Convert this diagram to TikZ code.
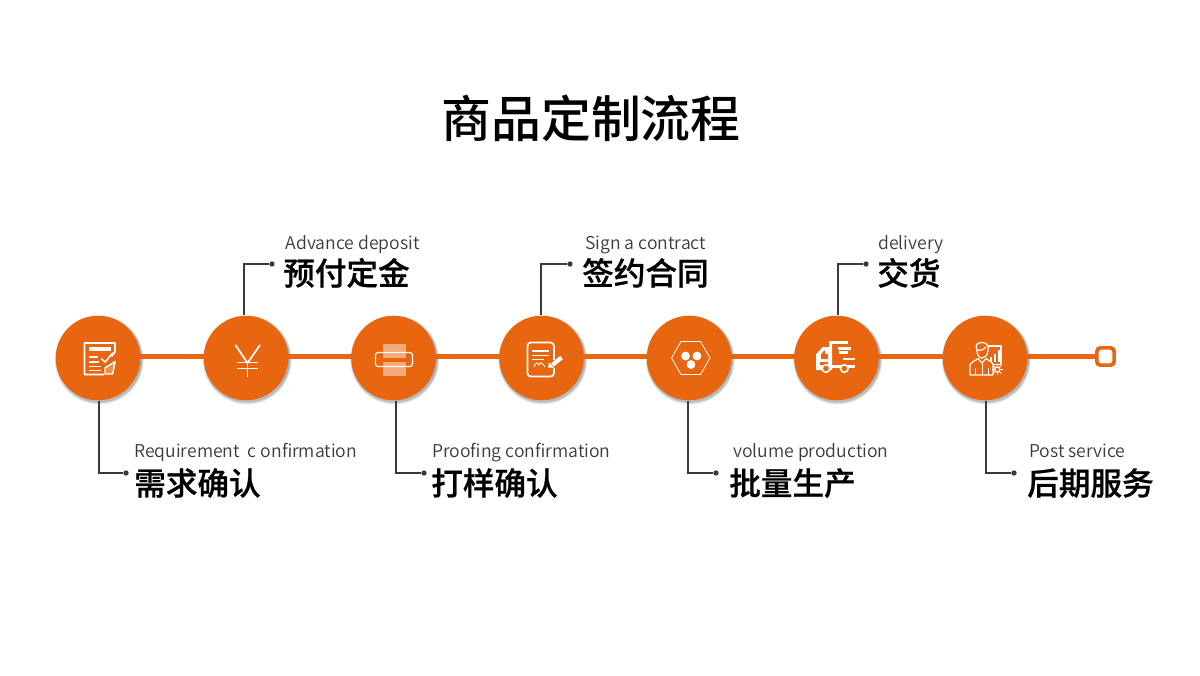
\documentclass[tikz,border=0pt]{standalone}
\usepackage{fontspec}
\setmainfont{Noto Sans}
\newfontfamily\cjkm{Noto Sans CJK SC Medium}
\newfontfamily\cjkb[FakeBold=0.7]{Noto Sans CJK SC Medium}
\newfontfamily\cjkl{Noto Sans CJK SC DemiLight}
\usetikzlibrary{calc}
\definecolor{org}{HTML}{E8660F}
\definecolor{ink}{HTML}{3A3A3A}
\definecolor{shade}{HTML}{6A3A18}
\tikzset{
  x=0.75pt,y=-0.75pt,
  spine/.style={draw=org,line width=3.6pt},
  stepdisc/.style={circle,fill=org,minimum size=63.4pt,inner sep=0pt},
  lead/.style={draw=ink,line width=1.05pt},
  leaddot/.style={circle,fill=ink,minimum size=4pt,inner sep=0pt},
  entext/.style={anchor=base west,inner sep=0pt,text=ink,font=\cjkl\fontsize{13.2}{14}\selectfont},
  cntext/.style={anchor=base west,inner sep=0pt,text=black,font=\cjkb\fontsize{23.7}{24}\selectfont},
  ico/.style={draw=white,line width=0.9pt,line join=round},
  endcap/.style={draw=org,fill=white,line width=2.7pt,rounded corners=3pt,minimum size=13pt,inner sep=0pt}
}
\begin{document}
\begin{tikzpicture}
\useasboundingbox (0,0) rectangle (1200,675);
\fill[white] (0,0) rectangle (1200,675);
\node[inner sep=0pt,font=\cjkm\fontsize{37.4}{40}\selectfont] (title) at (591,118.5) {商品定制流程};
% shadows
\foreach \x in {98,246,393.5,541.5,689,836.5,985}{
  \foreach \r in {44.4,43.8,43.2,42.7,42.2}{
    \fill[shade,opacity=0.07] (\x+1.2,358+2) circle[radius=\r*0.75pt];
  }
}
% anchors
\node[endcap] (e) at (1105.5,356.5) {};
\coordinate (sp) at (0,356.5);
\foreach \n/\x in {1/98,2/246,3/393.5,4/541.5,5/689,6/836.5,7/985}{
  \coordinate (a\n) at (\x,358);
}
\draw[spine] (a1|-sp) -- (a2|-sp);
\draw[spine] (a2|-sp) -- (a3|-sp);
\draw[spine] (a3|-sp) -- (a4|-sp);
\draw[spine] (a4|-sp) -- (a5|-sp);
\draw[spine] (a5|-sp) -- (a6|-sp);
\draw[spine] (a6|-sp) -- (a7|-sp);
\draw[spine] (a7|-sp) -- (e.west);
\node[endcap] at (e) {};
% discs
\node[stepdisc] (c1) at (98,358) {};
\node[stepdisc] (c2) at (246,358) {};
\node[stepdisc] (c3) at (393.5,358) {};
\node[stepdisc] (c4) at (541.5,358) {};
\node[stepdisc] (c5) at (689,358) {};
\node[stepdisc] (c6) at (836.5,358) {};
\node[stepdisc] (c7) at (985,358) {};
% leaders
\node[leaddot] (d1) at (126,473) {};
\node[leaddot] (d2) at (272,264) {};
\node[leaddot] (d3) at (424,473) {};
\node[leaddot] (d4) at (570,264) {};
\node[leaddot] (d5) at (716,473) {};
\node[leaddot] (d6) at (866,264) {};
\node[leaddot] (d7) at (1014,473) {};
\draw[lead] ($(c1.south)+(1,0)$) |- (d1);
\draw[lead] ($(c2.north)+(-2,0)$) |- (d2);
\draw[lead] ($(c3.south)+(2.5,0)$) |- (d3);
\draw[lead] ($(c4.north)+(-0.5,0)$) |- (d4);
\draw[lead] ($(c5.south)+(-1,0)$) |- (d5);
\draw[lead] ($(c6.north)+(1.5,0)$) |- (d6);
\draw[lead] ($(c7.south)+(1,0)$) |- (d7);
% labels
\node[entext] (t1) at (134,457.5) {Requirement\ \ c onfirmation};
\node[cntext] (l1) at (134,495) {需求确认};
\node[entext] (t2) at (285.5,249) {Advance deposit};
\node[cntext] (l2) at (283,285) {预付定金};
\node[entext] (t3) at (432,457.5) {Proofing confirmation};
\node[cntext] (l3) at (431,495) {打样确认};
\node[entext] (t4) at (585,249) {Sign a contract};
\node[cntext] (l4) at (582,285) {签约合同};
\node[entext] (t5) at (733,457.5) {volume production};
\node[cntext] (l5) at (729,495) {批量生产};
\node[entext] (t6) at (878,249) {delivery};
\node[cntext] (l6) at (877,285) {交货};
\node[entext] (t7) at (1029,457.5) {Post service};
\node[cntext] (l7) at (1027,495) {后期服务};
% icon 1: form
\draw[ico,line width=1.2pt] (104,374.5) -- (84.5,374.5) -- (84.5,343) -- (115,343) -- (115,352) -- (111.5,356.5);
\fill[white] (89.3,347) rectangle (111,351);
\draw[ico,line width=1.1pt] (89.3,357) -- (97.7,357) (89.3,362) -- (99,362) (89.3,366.5) -- (101,366.5) (89.3,370.5) -- (101,370.5);
\draw[ico,line width=1.1pt] (101,358.7) -- (105.3,362) -- (112.7,352.7);
\draw[ico,line width=1.1pt,fill=white,fill opacity=.25] (105,368) -- (115,361.7) -- (112.7,374) -- (105,374) -- cycle;
% icon 2: yen
\draw[white,line width=1.3pt] (235.5,345) -- (247.5,363) -- (260,345);
\draw[white,line width=1.4pt] (247.5,363) -- (247.5,377);
\draw[white,line width=1.3pt] (237,362.5) -- (258,362.5) (237,368.5) -- (258,368.5);
% icon 3: printer
\fill[white,opacity=.45] (383,344) rectangle (406,358);
\fill[white,opacity=.45] (383,362) rectangle (406,376);
\draw[ico,rounded corners=2pt] (375.5,352.5) rectangle (412.5,366.5);
% icon 4: contract
\draw[ico,line width=1.3pt,rounded corners=2.5pt] (554,360) -- (554,342.5) -- (527.5,342.5) -- (527.5,376.5) -- (554,376.5) -- (554,368);
\draw[ico,line width=1.2pt] (532,351) -- (549,351) (532,355.5) -- (549,355.5) (532,359.5) -- (544,359.5);
\draw[ico,line width=.7pt] (534,367) .. controls (536,362) and (537,362) .. (539,365) .. controls (540,362) and (542,362) .. (545,367);
\draw[white,line width=3.2pt] (561.5,357.5) -- (552.5,365);
\fill[white] (548,367.5) -- (554,367.5) -- (549,362.5) -- cycle;
% icon 5: hexagon
\draw[ico,line width=.6pt] (671.5,358) -- (681,341.5) -- (700.5,341.5) -- (710,358) -- (700.5,374.5) -- (681,374.5) -- cycle;
\fill[white] (685.5,356) circle[radius=4.4*0.75pt];
\fill[white] (697,356) circle[radius=4.4*0.75pt];
\fill[white] (691,364.5) circle[radius=4.4*0.75pt];
% icon 6: truck
\fill[white] (816,370) -- (816,354.5) -- (822.7,347) -- (829,347) -- (829,341) -- (832,341) -- (832,370) -- cycle;
\fill[org] (821,359) -- (821,354.5) -- (824,350.5) -- (825,350.5) -- (825,354) -- (828,354) -- (828,359) -- cycle;
\fill[org] (820,361.5) rectangle (828,365);
\fill[white] (831,341) rectangle (848,344.3);
\fill[white] (838,347) rectangle (851,349.7);
\fill[white] (838.7,351.3) rectangle (848,354);
\fill[white] (842.7,357.7) rectangle (855,360.3);
\fill[white] (831,365.3) rectangle (841,368);
\fill[white] (848,365.3) rectangle (855,368);
\draw[white,fill=org,line width=1.2pt] (826,368.5) circle[radius=3.8*0.75pt];
\draw[white,fill=org,line width=1.2pt] (844.3,368.5) circle[radius=3.8*0.75pt];
% icon 7: person
\draw[ico] (976.7,349) .. controls (975,345) and (977,342.5) .. (982,342.5) .. controls (987,342.5) and (989,346) .. (988,351) .. controls (987,356) and (985,358) .. (982,358) .. controls (979,358) and (977,355) .. (976.7,349) -- cycle;
\draw[ico] (976.7,350) .. controls (981,351) and (985,349) .. (986,346.5);
\draw[ico] (970,375) -- (970,365) .. controls (971,362) and (975,361) .. (978,358.5) -- (982,363) -- (986,358.5) .. controls (989,361) and (993,362) .. (993,365) -- (993,375) -- cycle;
\draw[ico,line width=.6pt] (982,363) -- (982,375) (975.5,368) -- (975.5,375) (988,368) -- (988,375);
\draw[ico] (988,346) -- (1001,346) -- (1001,364.7) -- (993,364.7);
\fill[white] (990,357) rectangle (992,362);
\fill[white] (994,353.5) rectangle (996,362);
\fill[white] (998,350) rectangle (1000,362);
\draw[white,line width=1pt] (997.3,369.5) circle[radius=2.6*0.75pt];
\foreach \a in {0,45,...,315}{
  \draw[white,line width=.7pt] ($(997.3,369.5)+(\a:3)$) -- ($(997.3,369.5)+(\a:5.5)$);
}
\end{tikzpicture}
\end{document}
